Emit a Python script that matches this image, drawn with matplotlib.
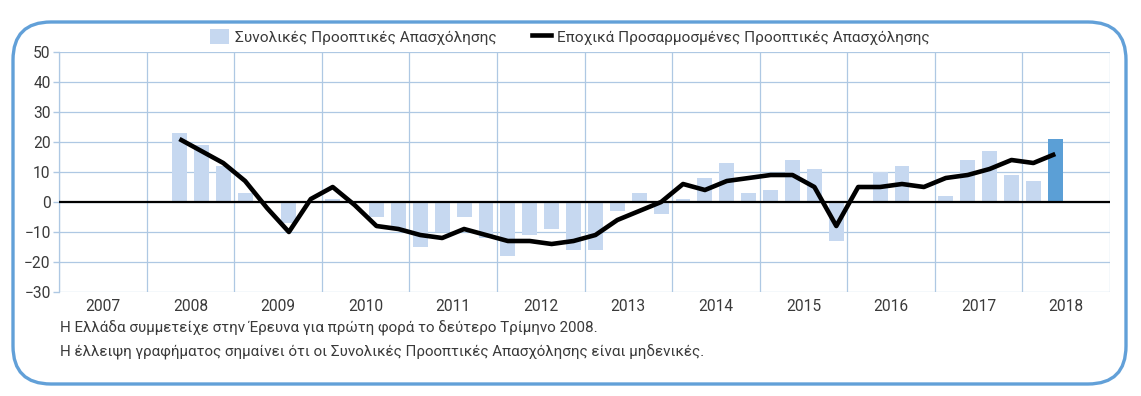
import matplotlib
matplotlib.use('Agg')
import matplotlib.pyplot as plt
import numpy as np
from matplotlib.patches import FancyBboxPatch, Patch
from matplotlib.lines import Line2D

plt.rcParams['font.family'] = ['Roboto', 'DejaVu Sans']

# quarterly data, 2008 Q2 .. 2018 Q2
years = list(range(2007, 2019))
start_year, start_q = 2008, 2
net_outlook = [23, 19, 12,
               3, 0, -7, 0,
               1, 0, -5, -9,
               -15, -10, -5, -12,
               -18, -11, -9, -16,
               -16, -3, 3, -4,
               1, 8, 13, 3,
               4, 14, 11, -13,
               0, 10, 12, 0,
               2, 14, 17, 9,
               7, 21]
seasonal = [21, 17, 13,
            7, -2, -10, 1,
            5, -1, -8, -9,
            -11, -12, -9, -11,
            -13, -13, -14, -13,
            -11, -6, -3, 0,
            6, 4, 7, 8,
            9, 9, 5, -8,
            5, 5, 6, 5,
            8, 9, 11, 14,
            13, 16]
label_bar = 'Συνολικές Προοπτικές Απασχόλησης'
label_line = 'Εποχικά Προσαρμοσμένες Προοπτικές Απασχόλησης'
notes = ['Η Ελλάδα συμμετείχε στην Έρευνα για πρώτη φορά το δεύτερο Τρίμηνο 2008.',
         'Η έλλειψη γραφήματος σημαίνει ότι οι Συνολικές Προοπτικές Απασχόλησης είναι μηδενικές.']

bar_color = '#c6d8f0'
last_color = '#5b9fd6'
grid_color = '#aec8e3'
text_color = '#3a3a3a'
fs = 11.1

n = len(net_outlook)
x = np.array([start_year + (start_q - 1 + i + 0.5) / 4.0 for i in range(n)])

fig = plt.figure(figsize=(11.41, 3.96), dpi=100)
ax = fig.add_axes([59 / 1141, 1 - 292 / 396, (1110 - 59) / 1141, 240 / 396])

colors = [bar_color] * (n - 1) + [last_color]
ax.bar(x, net_outlook, width=0.17, color=colors, zorder=2)
ax.plot(x, seasonal, color='black', linewidth=3.3, zorder=4, solid_capstyle='butt')
ax.axhline(0, color='black', linewidth=1.6, zorder=3)

ax.set_xlim(2007, 2019)
ax.set_ylim(-30, 50)
ax.set_xticks(range(2007, 2020))
ax.set_xticklabels([])
ax.set_xticks([y + 0.5 for y in years], minor=True)
ax.set_xticklabels([str(y) for y in years], minor=True)
ax.set_yticks(range(-30, 60, 10))
ax.tick_params(axis='x', which='both', length=0, pad=5, labelsize=11.2, labelcolor=text_color)
ax.tick_params(axis='y', length=4, color=grid_color, width=1, pad=2, labelsize=11.2, labelcolor=text_color)
ax.grid(True, which='major', color=grid_color, linewidth=0.9, zorder=0)
ax.set_axisbelow(True)
for side in ['top', 'right', 'bottom']:
    ax.spines[side].set_visible(False)
ax.spines['left'].set_color(grid_color)
ax.spines['left'].set_linewidth(0.9)

handles = [Patch(facecolor=bar_color, edgecolor='none'),
           Line2D([0], [0], color='black', linewidth=3.3)]
fig.legend(handles, [label_bar, label_line], loc='center', bbox_to_anchor=(570 / 1141, 1 - 37 / 396),
           ncol=2, frameon=False, fontsize=fs, handlelength=1.2, handleheight=1.1,
           columnspacing=2.3, handletextpad=0.4, labelcolor=text_color)

fig.text(60 / 1141, 1 - 328 / 396, notes[0], fontsize=10.9, color=text_color, va='center')
fig.text(60 / 1141, 1 - 352 / 396, notes[1], fontsize=10.9, color=text_color, va='center')

# rounded border around the whole chart
box = FancyBboxPatch((0.13, 0.12), 11.13, 3.62, boxstyle='round,pad=0,rounding_size=0.38',
                     transform=fig.dpi_scale_trans, facecolor='none', edgecolor='#62a0d8',
                     linewidth=2.4, zorder=0)
fig.patches.append(box)

fig.savefig('out.png', dpi=100)
plt.close()
